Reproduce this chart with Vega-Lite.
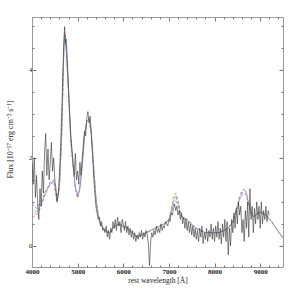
{
  "$schema": "https://vega.github.io/schema/vega-lite/v6.json",
  "autosize": {"type": "none"},
  "padding": {"left": 32, "top": 17, "right": 16, "bottom": 32},
  "width": 251,
  "height": 250,
  "background": "white",
  "config": {
    "view": {"stroke": null},
    "axis": {"labelFont": "Liberation Serif", "titleFont": "Liberation Serif", "labelFontSize": 7, "titleFontSize": 7.5, "titleFontWeight": "normal", "labelColor": "#222", "titleColor": "#222", "domainColor": "#999", "tickColor": "#777", "grid": false}
  },
  "datasets": {
    "spec": [
      {"w":4000,"f":1.9},{"w":4025,"f":1.4},{"w":4050,"f":2.0},{"w":4075,"f":1.1},{"w":4100,"f":1.6},{"w":4125,"f":0.9},{"w":4150,"f":0.6},{"w":4175,"f":1.3},{"w":4200,"f":0.9},{"w":4225,"f":1.7},{"w":4250,"f":1.2},{"w":4275,"f":2.1},{"w":4300,"f":2.55},{"w":4325,"f":1.6},{"w":4350,"f":2.2},{"w":4375,"f":1.5},{"w":4400,"f":1.9},{"w":4425,"f":2.35},{"w":4450,"f":1.7},{"w":4475,"f":2.0},{"w":4500,"f":1.5},{"w":4525,"f":1.3},{"w":4550,"f":1.0},{"w":4575,"f":1.2},{"w":4600,"f":1.6},{"w":4625,"f":2.2},{"w":4650,"f":3.0},{"w":4675,"f":3.9},{"w":4700,"f":4.7},{"w":4715,"f":4.98},{"w":4730,"f":4.6},{"w":4750,"f":4.7},{"w":4775,"f":4.2},{"w":4800,"f":3.6},{"w":4825,"f":3.0},{"w":4850,"f":2.5},{"w":4875,"f":2.2},{"w":4900,"f":1.9},{"w":4925,"f":1.6},{"w":4950,"f":2.1},{"w":4975,"f":1.5},{"w":5000,"f":1.7},{"w":5025,"f":1.4},{"w":5050,"f":1.9},{"w":5075,"f":1.6},{"w":5100,"f":2.0},{"w":5125,"f":2.3},{"w":5150,"f":2.6},{"w":5175,"f":2.5},{"w":5200,"f":2.9},{"w":5225,"f":3.05},{"w":5250,"f":2.8},{"w":5275,"f":2.95},{"w":5300,"f":2.5},{"w":5325,"f":2.1},{"w":5350,"f":1.6},{"w":5375,"f":1.2},{"w":5400,"f":0.9},{"w":5425,"f":0.75},{"w":5450,"f":0.6},{"w":5475,"f":0.65},{"w":5500,"f":0.45},{"w":5525,"f":0.55},{"w":5550,"f":0.35},{"w":5575,"f":0.4},{"w":5600,"f":0.3},{"w":5625,"f":0.45},{"w":5650,"f":0.2},{"w":5675,"f":0.35},{"w":5700,"f":0.15},{"w":5725,"f":0.4},{"w":5750,"f":0.3},{"w":5775,"f":0.55},{"w":5800,"f":0.4},{"w":5825,"f":0.6},{"w":5850,"f":0.35},{"w":5875,"f":0.65},{"w":5900,"f":0.45},{"w":5925,"f":0.55},{"w":5950,"f":0.3},{"w":5975,"f":0.6},{"w":6000,"f":0.5},{"w":6025,"f":0.35},{"w":6050,"f":0.55},{"w":6075,"f":0.3},{"w":6100,"f":0.45},{"w":6125,"f":0.25},{"w":6150,"f":0.4},{"w":6175,"f":0.2},{"w":6200,"f":0.35},{"w":6225,"f":0.15},{"w":6250,"f":0.3},{"w":6275,"f":0.1},{"w":6300,"f":0.25},{"w":6325,"f":0.15},{"w":6350,"f":0.3},{"w":6375,"f":0.2},{"w":6400,"f":0.35},{"w":6425,"f":0.15},{"w":6450,"f":0.3},{"w":6475,"f":0.2},{"w":6500,"f":0.35},{"w":6525,"f":0.25},{"w":6550,"f":0.05},{"w":6575,"f":-0.45},{"w":6600,"f":0.1},{"w":6625,"f":0.3},{"w":6650,"f":0.2},{"w":6675,"f":0.35},{"w":6700,"f":0.25},{"w":6725,"f":0.45},{"w":6750,"f":0.3},{"w":6775,"f":0.4},{"w":6800,"f":0.3},{"w":6825,"f":0.5},{"w":6850,"f":0.35},{"w":6875,"f":0.45},{"w":6900,"f":0.4},{"w":6925,"f":0.55},{"w":6950,"f":0.5},{"w":6975,"f":0.45},{"w":7000,"f":0.6},{"w":7025,"f":0.55},{"w":7050,"f":0.75},{"w":7075,"f":0.7},{"w":7100,"f":0.85},{"w":7125,"f":0.95},{"w":7150,"f":0.8},{"w":7175,"f":0.9},{"w":7200,"f":0.7},{"w":7225,"f":0.8},{"w":7250,"f":0.6},{"w":7275,"f":0.75},{"w":7300,"f":0.5},{"w":7325,"f":0.65},{"w":7350,"f":0.4},{"w":7375,"f":0.6},{"w":7400,"f":0.35},{"w":7425,"f":0.55},{"w":7450,"f":0.3},{"w":7475,"f":0.5},{"w":7500,"f":0.25},{"w":7525,"f":0.45},{"w":7550,"f":0.2},{"w":7575,"f":0.4},{"w":7600,"f":0.15},{"w":7625,"f":0.35},{"w":7650,"f":0.1},{"w":7675,"f":0.4},{"w":7700,"f":0.2},{"w":7725,"f":0.45},{"w":7750,"f":0.05},{"w":7775,"f":0.3},{"w":7800,"f":0.15},{"w":7825,"f":0.4},{"w":7850,"f":0.1},{"w":7875,"f":0.35},{"w":7900,"f":0.2},{"w":7925,"f":0.5},{"w":7950,"f":0.15},{"w":7975,"f":0.4},{"w":8000,"f":0.1},{"w":8025,"f":0.45},{"w":8050,"f":0.2},{"w":8075,"f":0.55},{"w":8100,"f":0.15},{"w":8125,"f":0.4},{"w":8150,"f":0.05},{"w":8175,"f":0.5},{"w":8200,"f":0.2},{"w":8225,"f":0.6},{"w":8250,"f":0.1},{"w":8275,"f":0.55},{"w":8300,"f":-0.2},{"w":8325,"f":0.4},{"w":8350,"f":0.0},{"w":8375,"f":0.6},{"w":8400,"f":0.3},{"w":8425,"f":0.75},{"w":8450,"f":0.4},{"w":8475,"f":0.85},{"w":8500,"f":0.5},{"w":8525,"f":1.0},{"w":8550,"f":0.7},{"w":8575,"f":0.9},{"w":8600,"f":0.3},{"w":8625,"f":0.6},{"w":8650,"f":0.1},{"w":8675,"f":0.8},{"w":8700,"f":0.4},{"w":8725,"f":1.0},{"w":8750,"f":0.2},{"w":8775,"f":1.3},{"w":8800,"f":0.6},{"w":8825,"f":0.9},{"w":8850,"f":0.3},{"w":8875,"f":0.85},{"w":8900,"f":0.5},{"w":8925,"f":1.0},{"w":8950,"f":0.6},{"w":8975,"f":0.9},{"w":9000,"f":0.4},{"w":9025,"f":1.0},{"w":9050,"f":0.5},{"w":9075,"f":0.8},{"w":9100,"f":0.6},{"w":9125,"f":0.9},{"w":9150,"f":0.55},{"w":9175,"f":0.8},{"w":9200,"f":0.7}
    ],
    "red": [
      {"w":4000,"f":0.65},{"w":4100,"f":0.7},{"w":4200,"f":0.9},{"w":4300,"f":1.2},{"w":4400,"f":1.4},{"w":4480,"f":1.45},{"w":4550,"f":1.0},{"w":4600,"f":1.3},{"w":4650,"f":2.5},{"w":4700,"f":4.6},{"w":4720,"f":4.85},{"w":4750,"f":4.5},{"w":4800,"f":3.5},{"w":4850,"f":2.4},{"w":4900,"f":1.8},{"w":4950,"f":1.3},{"w":5000,"f":1.08},{"w":5050,"f":1.3},{"w":5100,"f":1.8},{"w":5150,"f":2.5},{"w":5200,"f":2.85},{"w":5250,"f":2.9},{"w":5300,"f":2.6},{"w":5350,"f":1.8},{"w":5400,"f":1.1},{"w":5450,"f":0.7},{"w":5500,"f":0.5},{"w":5600,"f":0.35},{"w":5700,"f":0.3},{"w":5800,"f":0.45},{"w":5900,"f":0.5},{"w":6000,"f":0.45},{"w":6100,"f":0.4},{"w":6200,"f":0.3},{"w":6300,"f":0.2},{"w":6400,"f":0.25},{"w":6500,"f":0.3},{"w":6600,"f":0.35},{"w":6700,"f":0.4},{"w":6800,"f":0.45},{"w":6900,"f":0.5},{"w":7000,"f":0.6},{"w":7050,"f":0.8},{"w":7100,"f":1.05},{"w":7150,"f":1.15},{"w":7200,"f":1.0},{"w":7250,"f":0.75},{"w":7300,"f":0.65},{"w":7400,"f":0.6},{"w":7500,"f":0.5},{"w":7600,"f":0.4},{"w":7700,"f":0.35},{"w":7800,"f":0.3},{"w":7900,"f":0.3},{"w":8000,"f":0.3},{"w":8100,"f":0.3},{"w":8200,"f":0.35},{"w":8300,"f":0.4},{"w":8400,"f":0.55},{"w":8500,"f":0.9},{"w":8550,"f":1.1},{"w":8600,"f":1.22},{"w":8650,"f":1.27},{"w":8700,"f":1.2},{"w":8750,"f":0.95},{"w":8800,"f":0.75},{"w":8860,"f":0.66},{"w":8950,"f":0.74},{"w":9010,"f":0.77},{"w":9120,"f":0.7},{"w":9250,"f":0.55},{"w":9400,"f":0.32},{"w":9500,"f":0.18}
    ],
    "blue": [
      {"w":4000,"f":0.95},{"w":4100,"f":0.85},{"w":4200,"f":1.0},{"w":4300,"f":1.25},{"w":4400,"f":1.45},{"w":4480,"f":1.5},{"w":4550,"f":1.05},{"w":4600,"f":1.35},{"w":4650,"f":2.5},{"w":4700,"f":4.5},{"w":4720,"f":4.75},{"w":4750,"f":4.45},{"w":4800,"f":3.5},{"w":4850,"f":2.45},{"w":4900,"f":1.85},{"w":4950,"f":1.35},{"w":5000,"f":1.15},{"w":5050,"f":1.35},{"w":5100,"f":1.85},{"w":5150,"f":2.5},{"w":5200,"f":2.8},{"w":5250,"f":2.85},{"w":5300,"f":2.55},{"w":5350,"f":1.8},{"w":5400,"f":1.1},{"w":5450,"f":0.7},{"w":5500,"f":0.5},{"w":5600,"f":0.33},{"w":5700,"f":0.28},{"w":5800,"f":0.42},{"w":5900,"f":0.48},{"w":6000,"f":0.44},{"w":6100,"f":0.38},{"w":6200,"f":0.3},{"w":6300,"f":0.2},{"w":6400,"f":0.24},{"w":6500,"f":0.3},{"w":6600,"f":0.34},{"w":6700,"f":0.4},{"w":6800,"f":0.45},{"w":6900,"f":0.5},{"w":7000,"f":0.58},{"w":7050,"f":0.75},{"w":7100,"f":0.95},{"w":7150,"f":1.02},{"w":7200,"f":0.92},{"w":7250,"f":0.72},{"w":7300,"f":0.63},{"w":7400,"f":0.58},{"w":7500,"f":0.48},{"w":7600,"f":0.4},{"w":7700,"f":0.34},{"w":7800,"f":0.3},{"w":7900,"f":0.3},{"w":8000,"f":0.3},{"w":8100,"f":0.3},{"w":8200,"f":0.34},{"w":8300,"f":0.4},{"w":8400,"f":0.55},{"w":8500,"f":0.88},{"w":8550,"f":1.05},{"w":8600,"f":1.15},{"w":8650,"f":1.2},{"w":8700,"f":1.14},{"w":8750,"f":0.92},{"w":8800,"f":0.74},{"w":8860,"f":0.66},{"w":8950,"f":0.73},{"w":9010,"f":0.76},{"w":9120,"f":0.7},{"w":9250,"f":0.55},{"w":9400,"f":0.32},{"w":9500,"f":0.18}
    ],
    "green": [
      {"w":4000,"f":0.85},{"w":4100,"f":0.78},{"w":4200,"f":0.95},{"w":4300,"f":1.22},{"w":4400,"f":1.42},{"w":4480,"f":1.47},{"w":4550,"f":1.02},{"w":4600,"f":1.32},{"w":4650,"f":2.5},{"w":4700,"f":4.55},{"w":4720,"f":4.8},{"w":4750,"f":4.48},{"w":4800,"f":3.5},{"w":4850,"f":2.42},{"w":4900,"f":1.82},{"w":4950,"f":1.32},{"w":5000,"f":1.1},{"w":5050,"f":1.32},{"w":5100,"f":1.82},{"w":5150,"f":2.5},{"w":5200,"f":2.83},{"w":5250,"f":2.88},{"w":5300,"f":2.58},{"w":5350,"f":1.8},{"w":5400,"f":1.1},{"w":5450,"f":0.7},{"w":5500,"f":0.5},{"w":5600,"f":0.34},{"w":5700,"f":0.3},{"w":5800,"f":0.44},{"w":5900,"f":0.5},{"w":6000,"f":0.45},{"w":6100,"f":0.4},{"w":6200,"f":0.3},{"w":6300,"f":0.2},{"w":6400,"f":0.25},{"w":6500,"f":0.3},{"w":6600,"f":0.35},{"w":6700,"f":0.4},{"w":6800,"f":0.45},{"w":6900,"f":0.5},{"w":7000,"f":0.6},{"w":7050,"f":0.82},{"w":7100,"f":1.1},{"w":7150,"f":1.2},{"w":7200,"f":1.03},{"w":7250,"f":0.76},{"w":7300,"f":0.65},{"w":7400,"f":0.6},{"w":7500,"f":0.5},{"w":7600,"f":0.4},{"w":7700,"f":0.35},{"w":7800,"f":0.3},{"w":7900,"f":0.3},{"w":8000,"f":0.3},{"w":8100,"f":0.3},{"w":8200,"f":0.35},{"w":8300,"f":0.4},{"w":8400,"f":0.56},{"w":8500,"f":0.92},{"w":8550,"f":1.12},{"w":8600,"f":1.25},{"w":8650,"f":1.3},{"w":8700,"f":1.22},{"w":8750,"f":0.96},{"w":8800,"f":0.76},{"w":8860,"f":0.67},{"w":8950,"f":0.75},{"w":9010,"f":0.78},{"w":9120,"f":0.71},{"w":9250,"f":0.56},{"w":9400,"f":0.33},{"w":9500,"f":0.18}
    ],
    "magenta": [
      {"w":4000,"f":0.75},{"w":4100,"f":0.74},{"w":4200,"f":0.92},{"w":4300,"f":1.2},{"w":4400,"f":1.4},{"w":4480,"f":1.46},{"w":4550,"f":1.0},{"w":4600,"f":1.3},{"w":4650,"f":2.5},{"w":4700,"f":4.58},{"w":4720,"f":4.82},{"w":4750,"f":4.5},{"w":4800,"f":3.5},{"w":4850,"f":2.4},{"w":4900,"f":1.8},{"w":4950,"f":1.3},{"w":5000,"f":1.09},{"w":5050,"f":1.3},{"w":5100,"f":1.8},{"w":5150,"f":2.5},{"w":5200,"f":2.84},{"w":5250,"f":2.9},{"w":5300,"f":2.6},{"w":5350,"f":1.8},{"w":5400,"f":1.1},{"w":5450,"f":0.7},{"w":5500,"f":0.5},{"w":5600,"f":0.35},{"w":5700,"f":0.3},{"w":5800,"f":0.45},{"w":5900,"f":0.5},{"w":6000,"f":0.45},{"w":6100,"f":0.4},{"w":6200,"f":0.3},{"w":6300,"f":0.2},{"w":6400,"f":0.25},{"w":6500,"f":0.3},{"w":6600,"f":0.35},{"w":6700,"f":0.4},{"w":6800,"f":0.45},{"w":6900,"f":0.5},{"w":7000,"f":0.6},{"w":7050,"f":0.78},{"w":7100,"f":1.0},{"w":7150,"f":1.1},{"w":7200,"f":0.97},{"w":7250,"f":0.74},{"w":7300,"f":0.64},{"w":7400,"f":0.6},{"w":7500,"f":0.5},{"w":7600,"f":0.4},{"w":7700,"f":0.35},{"w":7800,"f":0.3},{"w":7900,"f":0.3},{"w":8000,"f":0.3},{"w":8100,"f":0.3},{"w":8200,"f":0.35},{"w":8300,"f":0.4},{"w":8400,"f":0.55},{"w":8500,"f":0.9},{"w":8550,"f":1.08},{"w":8600,"f":1.2},{"w":8650,"f":1.24},{"w":8700,"f":1.18},{"w":8750,"f":0.94},{"w":8800,"f":0.75},{"w":8860,"f":0.66},{"w":8950,"f":0.74},{"w":9010,"f":0.77},{"w":9120,"f":0.7},{"w":9250,"f":0.55},{"w":9400,"f":0.32},{"w":9500,"f":0.18}
    ]
  },
  "resolve": {"axis": {"x": "independent", "y": "independent"}},
  "layer": [
    {
      "data": {"name": "red"},
      "mark": {"type": "line", "color": "#f07070", "strokeWidth": 0.8, "strokeDash": [3, 2], "clip": true},
      "encoding": {
        "x": {"field": "w", "type": "quantitative", "scale": {"domain": [4000, 9500], "nice": false, "zero": false},
          "axis": {"orient": "bottom", "values": [4000,5000,6000,7000,8000,9000], "format": "d", "tickSize": -4, "labelPadding": 4, "labelFontWeight": "bold", "title": "rest wavelength [Å]", "titlePadding": 2, "labelFlush": false}},
        "y": {"field": "f", "type": "quantitative", "scale": {"domain": [-0.48, 5.2], "nice": false, "zero": false},
          "axis": {"orient": "left", "values": [0, 2, 4], "format": "d", "tickSize": -4, "labelPadding": 4, "title": "Flux [10⁻¹⁷ erg cm⁻² s⁻¹]", "titleFontSize": 8, "titleX": -22, "titleY": 122, "titleAngle": -90, "titleAlign": "center", "titleBaseline": "middle", "labelFlush": false}}
      }
    },
    {
      "data": {"name": "blue"},
      "mark": {"type": "line", "color": "#7070f0", "strokeWidth": 0.8, "strokeDash": [3, 2], "strokeDashOffset": 1, "clip": true},
      "encoding": {
        "x": {"field": "w", "type": "quantitative", "axis": {"orient": "bottom", "values": [4200,4400,4600,4800,5200,5400,5600,5800,6200,6400,6600,6800,7200,7400,7600,7800,8200,8400,8600,8800,9200,9400], "tickSize": -2, "labels": false, "domain": false, "title": null}},
        "y": {"field": "f", "type": "quantitative", "axis": {"orient": "left", "values": [0.5,1,1.5,2.5,3,3.5,4.5,5], "tickSize": -2, "labels": false, "domain": false, "title": null}}
      }
    },
    {
      "data": {"name": "green"},
      "mark": {"type": "line", "color": "#60c060", "strokeWidth": 0.8, "strokeDash": [3, 2], "strokeDashOffset": 2, "clip": true},
      "encoding": {
        "x": {"field": "w", "type": "quantitative", "axis": {"orient": "top", "values": [4000,5000,6000,7000,8000,9000], "tickSize": -4, "labels": false, "title": null}},
        "y": {"field": "f", "type": "quantitative", "axis": {"orient": "right", "values": [0, 2, 4], "tickSize": -4, "labels": false, "title": null}}
      }
    },
    {
      "data": {"name": "magenta"},
      "mark": {"type": "line", "color": "#d070d0", "strokeWidth": 0.8, "strokeDash": [2, 3], "strokeDashOffset": 3, "clip": true},
      "encoding": {
        "x": {"field": "w", "type": "quantitative", "axis": {"orient": "top", "values": [4200,4400,4600,4800,5200,5400,5600,5800,6200,6400,6600,6800,7200,7400,7600,7800,8200,8400,8600,8800,9200,9400], "tickSize": -2, "labels": false, "domain": false, "title": null}},
        "y": {"field": "f", "type": "quantitative", "axis": {"orient": "right", "values": [0.5,1,1.5,2.5,3,3.5,4.5,5], "tickSize": -2, "labels": false, "domain": false, "title": null}}
      }
    },
    {
      "data": {"name": "spec"},
      "mark": {"type": "line", "color": "#333", "strokeWidth": 0.6, "clip": true},
      "encoding": {
        "x": {"field": "w", "type": "quantitative", "axis": null},
        "y": {"field": "f", "type": "quantitative", "axis": null}
      }
    }
  ]
}
